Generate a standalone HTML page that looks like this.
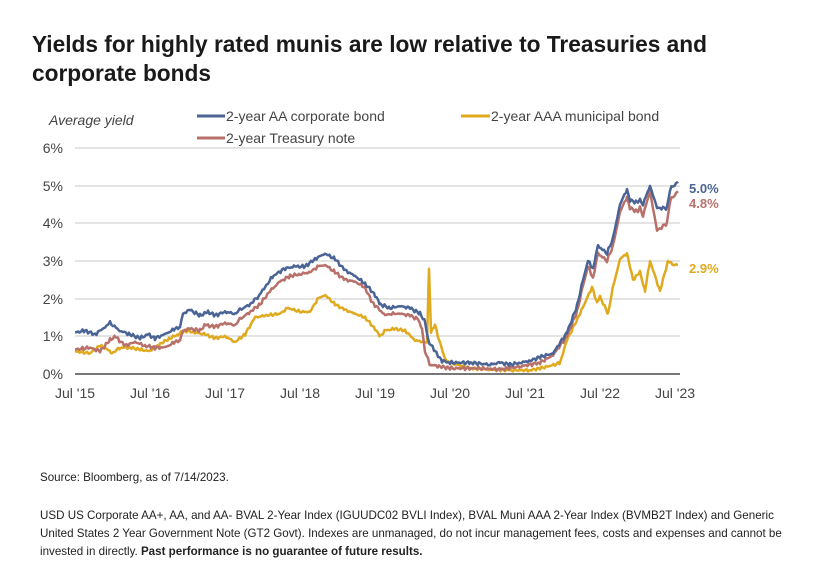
<!DOCTYPE html>
<html><head><meta charset="utf-8"><style>
body{margin:0;background:#fff;font-family:"Liberation Sans",sans-serif;color:#222;}
.wrap{position:relative;width:815px;height:582px;overflow:hidden;}
h1{position:absolute;left:32px;top:30px;margin:0;font-size:22.7px;line-height:29px;font-weight:bold;color:#1a1a1a;width:740px;}
.src{position:absolute;left:40px;font-size:11.6px;color:#222;line-height:18px;}
</style></head><body><div class="wrap">
<h1>Yields for highly rated munis are low relative to Treasuries and corporate bonds</h1>
<svg id="c" width="815" height="582" style="position:absolute;left:0;top:0" font-family="Liberation Sans, sans-serif">
<g stroke="#c8c8c8" stroke-width="1">
<line x1="75" x2="680" y1="148" y2="148"/><line x1="75" x2="680" y1="186" y2="186"/><line x1="75" x2="680" y1="223" y2="223"/><line x1="75" x2="680" y1="261" y2="261"/><line x1="75" x2="680" y1="299" y2="299"/><line x1="75" x2="680" y1="336" y2="336"/>
</g>
<line x1="75" x2="680" y1="374" y2="374" stroke="#777" stroke-width="2"/>
<g font-size="14" fill="#444" text-anchor="end">
<text x="63" y="153">6%</text><text x="63" y="191">5%</text><text x="63" y="228">4%</text><text x="63" y="266">3%</text><text x="63" y="304">2%</text><text x="63" y="341">1%</text><text x="63" y="379">0%</text>
</g>
<g font-size="14" fill="#444" text-anchor="middle">
<text x="75" y="398">Jul '15</text><text x="150" y="398">Jul '16</text><text x="225" y="398">Jul '17</text><text x="300" y="398">Jul '18</text><text x="375" y="398">Jul '19</text><text x="450" y="398">Jul '20</text><text x="525" y="398">Jul '21</text><text x="600" y="398">Jul '22</text><text x="675" y="398">Jul '23</text>
</g>
<text x="49" y="125" font-size="14" font-style="italic" fill="#444">Average yield</text>
<line x1="197" x2="225" y1="116" y2="116" stroke="#4a6496" stroke-width="3"/>
<text x="226" y="121" font-size="14" fill="#444">2-year AA corporate bond</text>
<line x1="197" x2="225" y1="138" y2="138" stroke="#b8716a" stroke-width="3"/>
<text x="226" y="143" font-size="14" fill="#444">2-year Treasury note</text>
<line x1="461" x2="490" y1="116" y2="116" stroke="#e0aa1e" stroke-width="3"/>
<text x="491" y="121" font-size="14" fill="#444">2-year AAA municipal bond</text>
<g font-size="13" font-weight="bold">
<text x="689" y="193" fill="#4a6496">5.0%</text>
<text x="689" y="208" fill="#b8716a">4.8%</text>
<text x="689" y="273" fill="#e0aa1e">2.9%</text>
</g>
<g id="lines" fill="none" stroke-width="2.5" stroke-linejoin="round"></g>
</svg>
<div class="src" style="top:469px">Source: Bloomberg, as of 7/14/2023.</div>
<div class="src" style="top:507px;width:755px">USD US Corporate AA+, AA, and AA- BVAL 2-Year Index (IGUUDC02 BVLI Index), BVAL Muni AAA 2-Year Index (BVMB2T Index) and Generic United States 2 Year Government Note (GT2 Govt). Indexes are unmanaged, do not incur management fees, costs and expenses and cannot be invested in directly. <b>Past performance is no guarantee of future results.</b></div>
</div>
<script>
function y(v){return 374-v*37.7;}
function mk(d,col,amp){
 var p=[];for(var i=0;i<d.length-1;i++){var x0=d[i][0],v0=d[i][1],x1=d[i+1][0],v1=d[i+1][1];
  for(var x=x0;x<x1;x+=1.5){var t=(x-x0)/(x1-x0);var v=v0+(v1-v0)*t+amp*Math.sin(x*2.3)*Math.sin(x*0.7);p.push(x.toFixed(1)+","+y(v).toFixed(1));}}
 p.push(d[d.length-1][0]+","+y(d[d.length-1][1]).toFixed(1));
 var e=document.createElementNS("http://www.w3.org/2000/svg","polyline");e.setAttribute("points",p.join(" "));e.setAttribute("stroke",col);document.getElementById("lines").appendChild(e);}
var muni=[[75,.6],[90,.55],[100,.75],[105,.7],[112,.55],[120,.7],[130,.7],[140,.65],[150,.6],[160,.8],[170,.95],[178,1.05],[185,1.15],[195,1.1],[205,1.05],[215,.95],[225,1.0],[235,.85],[245,1.05],[255,1.5],[265,1.55],[280,1.6],[288,1.75],[300,1.65],[310,1.65],[318,2.0],[325,2.1],[335,1.85],[345,1.7],[355,1.6],[365,1.5],[375,1.2],[380,1.0],[385,1.15],[395,1.2],[405,1.15],[415,.9],[422,.85],[427,.85],[429,2.8],[431,1.1],[435,1.3],[438,1.0],[445,.4],[450,.3],[470,.15],[490,.12],[510,.1],[530,.1],[540,.15],[555,.25],[560,.3],[567,.9],[580,1.6],[592,2.3],[597,1.9],[600,2.05],[608,1.6],[613,2.3],[620,3.05],[627,3.2],[633,2.5],[640,2.7],[645,2.2],[650,3.0],[660,2.2],[668,3.0],[673,2.9],[678,2.9]];
var tsy=[[75,.65],[90,.7],[100,.6],[110,.9],[115,1.0],[125,.75],[135,.85],[145,.75],[155,.7],[165,.7],[175,.85],[180,.9],[183,1.15],[190,1.2],[200,1.15],[205,1.3],[215,1.25],[225,1.35],[235,1.3],[240,1.45],[250,1.65],[260,1.85],[270,2.2],[280,2.45],[290,2.6],[300,2.65],[310,2.7],[318,2.85],[325,2.9],[335,2.7],[345,2.5],[355,2.45],[365,2.3],[372,1.9],[378,1.75],[385,1.55],[390,1.6],[400,1.6],[410,1.55],[418,1.45],[422,1.2],[425,.6],[430,.25],[440,.2],[450,.15],[480,.15],[500,.12],[520,.2],[540,.3],[553,.5],[567,1.0],[577,1.65],[583,2.35],[588,2.85],[593,2.55],[598,3.2],[607,3.0],[613,3.4],[620,4.3],[627,4.7],[630,4.4],[638,4.3],[640,4.4],[643,4.2],[650,4.85],[657,3.8],[667,4.0],[670,4.6],[678,4.85]];
var corp=[[75,1.1],[85,1.15],[95,1.05],[105,1.25],[110,1.35],[120,1.15],[130,1.05],[140,.95],[148,1.05],[155,.95],[165,1.05],[175,1.2],[180,1.25],[183,1.6],[190,1.7],[200,1.55],[208,1.65],[215,1.55],[225,1.65],[235,1.6],[240,1.7],[250,1.85],[258,2.05],[265,2.3],[273,2.6],[285,2.8],[295,2.85],[305,2.85],[315,3.05],[325,3.2],[335,3.05],[345,2.75],[355,2.6],[365,2.4],[375,2.1],[380,1.85],[390,1.75],[400,1.8],[410,1.75],[420,1.6],[425,1.4],[428,.9],[435,.6],[442,.35],[450,.3],[470,.3],[490,.25],[500,.3],[510,.25],[520,.3],[530,.35],[540,.45],[553,.55],[567,1.1],[577,1.8],[583,2.5],[588,3.0],[593,2.8],[598,3.4],[607,3.2],[613,3.6],[620,4.5],[627,4.9],[630,4.6],[638,4.55],[640,4.6],[643,4.5],[650,5.0],[657,4.4],[667,4.4],[670,4.9],[678,5.1]];
mk(muni,"#e0aa1e",.04);mk(tsy,"#b8716a",.05);mk(corp,"#4a6496",.05);
</script>
</body></html>
